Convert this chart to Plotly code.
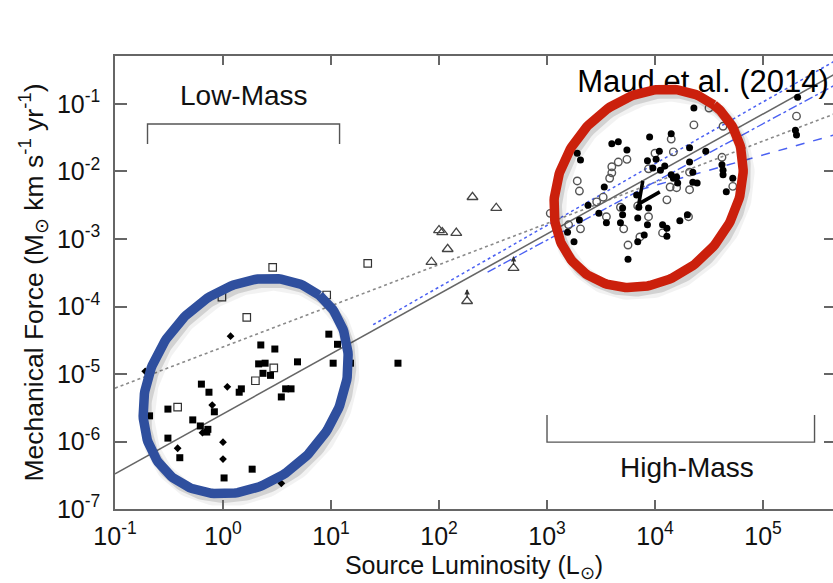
import numpy as np
import plotly.graph_objects as go

# ---------------- tick labels ----------------
x_tickvals = [1e-1, 1e0, 1e1, 1e2, 1e3, 1e4, 1e5]
x_ticktext = ["10<sup>-1</sup>", "10<sup>0</sup>", "10<sup>1</sup>", "10<sup>2</sup>",
              "10<sup>3</sup>", "10<sup>4</sup>", "10<sup>5</sup>"]
y_tickvals = [1e-7, 1e-6, 1e-5, 1e-4, 1e-3, 1e-2, 1e-1]
y_ticktext = ["10<sup>-7</sup>", "10<sup>-6</sup>", "10<sup>-5</sup>", "10<sup>-4</sup>",
              "10<sup>-3</sup>", "10<sup>-2</sup>", "10<sup>-1</sup>"]

# ---------------- data (log10 L [Lsun], log10 F [Msun km/s/yr]) ----------------
lm_sq_filled_logL = [0.98, 1.06, 1.02, 0.35, 0.48, 0.69, 0.33, 0.39, 0.37, 0.44, -0.20, -0.13, 0.15, 0.17,
                     0.58, 0.63, 0.54, -0.51, -0.68, -0.08, -0.28, -0.21, -0.14, -0.15, -0.51, -0.40, 0.27,
                     0.01, 1.18, 1.62]
lm_sq_filled_logF = [-4.41, -4.56, -4.84, -4.57, -4.63, -4.82, -4.85, -4.84, -4.99, -5.02, -5.15, -5.27, -5.27,
                     -5.22, -5.22, -5.22, -5.34, -5.52, -5.62, -5.56, -5.68, -5.77, -5.82, -5.86, -5.95, -6.24,
                     -6.41, -6.54, -4.84, -4.84]

lm_diamond_logL = [0.07, -0.72, 0.04, -0.10, -0.19, -0.42, 0.00, 0.00, 0.54]
lm_diamond_logF = [-4.44, -4.96, -5.19, -5.46, -5.87, -6.10, -6.01, -6.26, -6.62]

lm_sq_open_logL = [1.34, 0.46, -0.01, 0.22, 0.96, 0.47, 0.30, -0.42]
lm_sq_open_logF = [-3.36, -3.42, -3.86, -4.16, -3.83, -4.91, -5.10, -5.49]

im_tri_logL = [2.31, 2.53, 2.00, 2.03, 2.16, 2.08, 1.93, 2.69, 2.26]
im_tri_logF = [-2.38, -2.54, -2.87, -2.90, -2.91, -3.15, -3.34, -3.43, -3.92]
im_tri_lowerlimit = [False, False, False, False, False, False, False, True, True]

hm_filled_logL = [4.36, 5.32, 5.30, 5.31, 3.95, 3.60, 3.66, 3.74, 3.28, 3.31, 4.15, 4.04, 4.01, 3.93, 4.32,
                  4.47, 4.62, 4.63, 4.63, 4.72, 4.66, 4.32, 4.09, 4.05, 4.15, 4.17, 4.21, 4.20, 4.35, 4.39,
                  4.35, 3.53, 3.38, 3.48, 3.83, 3.85, 3.70, 3.70, 3.68, 3.94, 3.84, 3.55, 3.19, 3.25, 3.30,
                  3.93, 3.90, 3.84, 4.07, 4.11, 4.11, 4.23, 4.30, 3.75, 3.98]
hm_filled_logF = [-1.06, -0.90, -1.39, -1.46, -1.49, -1.59, -1.56, -1.68, -1.73, -1.83, -1.44, -1.70, -1.82,
                  -1.84, -1.65, -1.70, -1.90, -1.98, -2.05, -2.10, -2.30, -1.86, -1.92, -1.98, -2.05, -2.10,
                  -2.17, -2.08, -2.01, -2.17, -2.16, -2.23, -2.50, -2.62, -2.35, -2.53, -2.54, -2.64, -2.76,
                  -2.54, -2.69, -2.76, -2.90, -3.04, -2.72, -2.79, -2.94, -3.04, -2.79, -2.84, -2.96, -2.73,
                  -2.64, -3.30, -1.95]

hm_open_logL = [4.36, 4.50, 4.15, 3.60, 3.66, 3.74, 3.60, 3.58, 3.28, 3.30, 4.17, 4.00, 3.94, 4.32, 4.32,
                4.62, 4.72, 4.20, 4.14, 4.11, 3.68, 3.52, 3.46, 3.84, 3.94, 3.55, 3.31, 3.71, 3.20, 4.07,
                4.31, 3.75, 3.86, 5.31, 4.63, 3.03]
hm_open_logF = [-1.31, -1.06, -1.52, -1.93, -1.86, -1.82, -2.02, -2.10, -2.14, -2.29, -1.71, -1.73, -1.96,
                -2.01, -2.27, -1.79, -2.22, -2.24, -2.23, -2.42, -2.53, -2.38, -2.45, -2.51, -2.67, -2.67,
                -2.85, -2.85, -2.79, -2.91, -2.67, -3.09, -2.97, -1.18, -1.33, -2.62]

# fitted relations (end points, log10 units)
fit_all_logL = [-1.0, 6.0]
fit_all_logF = [-6.48, -0.26]
fit_bontemps_logL = [-1.0, 6.0]
fit_bontemps_logF = [-5.21, -0.94]
fit_hm_dotted_logL = [1.39, 5.70]
fit_hm_dotted_logF = [-4.27, -0.33]
fit_hm_dashdot_logL = [2.45, 5.70]
fit_hm_dashdot_logF = [-3.49, -0.69]
fit_hm_dashed_logL = [3.86, 5.70]
fit_hm_dashed_logF = [-2.27, -1.44]

# luminosity ranges of the two regimes (brackets)
lowmass_range_L = [0.2, 12.0]
lowmass_bracket_F = [0.0255, 0.0506]
highmass_range_L = [1.0e3, 3.0e5]
highmass_bracket_F = [2.47e-6, 9.8e-7]

# highlight ellipses: centre (log10 L, log10 F), semi-axes (px), tilt (deg)
blue_ellipse = dict(c=(0.21, -5.18), a=117, b=92, ang=51)
red_ellipse = dict(c=(3.94, -2.25), a=106, b=87, ang=52)

# pointer chevron inside the high-mass cluster: tip (log10 L, log10 F) and arm offsets (px)
pointer_logL, pointer_logF = 3.85, -2.48
pointer_arms_px = [(4, -23), (21, -12)]

# ---------------- geometry ----------------
W, H = 833, 583
M_L, M_R, M_T, M_B = 115, 0, 56, 74
X_RANGE = [-1.0, 5.648]
Y_RANGE = [-7.0, -0.289]
PXX = (W - M_L - M_R) / (X_RANGE[1] - X_RANGE[0])
PXY = (H - M_T - M_B) / (Y_RANGE[1] - Y_RANGE[0])

FONT = "Liberation Sans, Arial, Helvetica, sans-serif"
BLUE_LINE = "#4a60f2"


def p10(v):
    return [10 ** x for x in v]


def ellipse(e, dx=0.0, dy=0.0, n=240):
    t = np.linspace(0, 2 * np.pi, n)
    th = np.radians(e["ang"])
    ex = e["a"] * np.cos(t) * np.cos(th) - e["b"] * np.sin(t) * np.sin(th)
    ey = e["a"] * np.cos(t) * np.sin(th) + e["b"] * np.sin(t) * np.cos(th)
    lx = e["c"][0] + (ex + dx) / PXX
    ly = e["c"][1] + (ey - dy) / PXY
    return 10 ** lx, 10 ** ly


fig = go.Figure()


def add_line(lx, ly, color, width, dash):
    fig.add_trace(go.Scatter(x=p10(lx), y=p10(ly), mode="lines",
                             line=dict(color=color, width=width, dash=dash), hoverinfo="skip"))


add_line(fit_bontemps_logL, fit_bontemps_logF, "#8a8a8a", 1.6, "dot")
add_line(fit_all_logL, fit_all_logF, "#666666", 1.5, "solid")
add_line(fit_hm_dashed_logL, fit_hm_dashed_logF, BLUE_LINE, 1.5, "dash")
add_line(fit_hm_dotted_logL, fit_hm_dotted_logF, BLUE_LINE, 1.5, "dot")
add_line(fit_hm_dashdot_logL, fit_hm_dashdot_logF, BLUE_LINE, 1.4, "dashdot")

# data points
fig.add_trace(go.Scatter(x=p10(lm_sq_open_logL), y=p10(lm_sq_open_logF), mode="markers",
                         marker=dict(symbol="square-open", size=7.5, color="#333", line=dict(width=1.2))))
fig.add_trace(go.Scatter(x=p10(lm_sq_filled_logL), y=p10(lm_sq_filled_logF), mode="markers",
                         marker=dict(symbol="square", size=7, color="#000")))
fig.add_trace(go.Scatter(x=p10(lm_diamond_logL), y=p10(lm_diamond_logF), mode="markers",
                         marker=dict(symbol="diamond", size=6, color="#000")))
fig.add_trace(go.Scatter(x=p10(im_tri_logL), y=p10(im_tri_logF), mode="markers",
                         marker=dict(symbol="triangle-up-open", size=9.5, color="#444", line=dict(width=1.3))))
fig.add_trace(go.Scatter(x=p10(hm_open_logL), y=p10(hm_open_logF), mode="markers",
                         marker=dict(symbol="circle-open", size=7.5, color="#555", line=dict(width=1.4))))
fig.add_trace(go.Scatter(x=p10(hm_filled_logL), y=p10(hm_filled_logF), mode="markers",
                         marker=dict(symbol="circle", size=7, color="#000")))

# lower-limit arrows above two triangles (shafts)
for lx, ly, lim in zip(im_tri_logL, im_tri_logF, im_tri_lowerlimit):
    if lim:
        fig.add_trace(go.Scatter(x=[10 ** lx, 10 ** lx], y=[10 ** (ly + 3 / PXY), 10 ** (ly + 11 / PXY)],
                                 mode="lines", line=dict(color="#333", width=1.2), hoverinfo="skip"))

# pointer chevron
(a1x, a1y), (a2x, a2y) = pointer_arms_px
fig.add_trace(go.Scatter(
    x=[10 ** (pointer_logL + a1x / PXX), 10 ** pointer_logL, 10 ** (pointer_logL + a2x / PXX)],
    y=[10 ** (pointer_logF - a1y / PXY), 10 ** pointer_logF, 10 ** (pointer_logF - a2y / PXY)],
    mode="lines", line=dict(color="#000", width=3.5), hoverinfo="skip"))

# brackets
fig.add_trace(go.Scatter(x=[lowmass_range_L[0], lowmass_range_L[0], lowmass_range_L[1], lowmass_range_L[1]],
                         y=[lowmass_bracket_F[0], lowmass_bracket_F[1], lowmass_bracket_F[1], lowmass_bracket_F[0]],
                         mode="lines", line=dict(color="#555", width=1.4), yaxis="y2", hoverinfo="skip"))
fig.add_trace(go.Scatter(x=[highmass_range_L[0], highmass_range_L[0], highmass_range_L[1], highmass_range_L[1]],
                         y=[highmass_bracket_F[0], highmass_bracket_F[1], highmass_bracket_F[1], highmass_bracket_F[0]],
                         mode="lines", line=dict(color="#555", width=1.4), yaxis="y2", hoverinfo="skip"))

# reference label (drawn below the red ring)
fig.add_trace(go.Scatter(x=[10 ** 3.28], y=[10 ** -0.70], mode="text", text=["Maud et al. (2014)"],
                         textposition="middle right", cliponaxis=False,
                         textfont=dict(size=31, color="#000", family=FONT), hoverinfo="skip"))

# ellipses with soft shadows
for e, col in [(blue_ellipse, "#2f4f9e"), (red_ellipse, "#cb200c")]:
    sx, sy = ellipse(e, dx=4, dy=5)
    fig.add_trace(go.Scatter(x=sx, y=sy, mode="lines", line=dict(color="rgba(0,0,0,0.05)", width=15),
                             hoverinfo="skip"))
    sx, sy = ellipse(e, dx=3, dy=4)
    fig.add_trace(go.Scatter(x=sx, y=sy, mode="lines", line=dict(color="rgba(0,0,0,0.13)", width=10),
                             hoverinfo="skip"))
    ex, ey = ellipse(e)
    fig.add_trace(go.Scatter(x=ex, y=ey, mode="lines", line=dict(color=col, width=9.5), hoverinfo="skip"))

annotations = [
    dict(x=np.log10(1.56), y=-0.88, xref="x", yref="y", text="Low-Mass", showarrow=False,
         font=dict(size=28, color="#111", family=FONT)),
    dict(x=np.log10(1.98e4), y=-6.39, xref="x", yref="y", text="High-Mass", showarrow=False,
         font=dict(size=28, color="#111", family=FONT)),
]
# arrow heads of the lower limits
for lx, ly, lim in zip(im_tri_logL, im_tri_logF, im_tri_lowerlimit):
    if lim:
        annotations.append(dict(x=lx, y=ly + 12 / PXY, xref="x", yref="y", text="", showarrow=True,
                                arrowhead=2, arrowsize=0.9, arrowwidth=1.2, arrowcolor="#333", ax=0, ay=4,
                                standoff=0))

axis_common = dict(type="log", showgrid=False, zeroline=False, ticks="inside", tickcolor="#666",
                   tickwidth=1.5, linecolor="#666", linewidth=1.5,
                   tickfont=dict(size=25, color="#111", family=FONT))

fig.update_layout(
    width=W, height=H,
    margin=dict(l=M_L, r=M_R, t=M_T, b=M_B, pad=0),
    paper_bgcolor="white", plot_bgcolor="white",
    showlegend=False,
    font=dict(family=FONT, color="#111"),
    xaxis=dict(axis_common, range=X_RANGE, tickvals=x_tickvals, ticktext=x_ticktext, ticklen=9,
               showline=True, mirror="ticks", ticklabelstandoff=4,
               title=dict(text="Source Luminosity (L<sub>⊙</sub>)", font=dict(size=25, family=FONT, color="#111"),
                          standoff=8)),
    yaxis=dict(axis_common, range=Y_RANGE, tickvals=y_tickvals, ticktext=y_ticktext, ticklen=12,
               showline=True, mirror=False, ticklabelstandoff=8,
               title=dict(text="Mechanical Force (M<sub>⊙</sub> km s<sup>-1</sup> yr<sup>-1</sup>)",
                          font=dict(size=26.5, family=FONT, color="#111"), standoff=6)),
    yaxis2=dict(axis_common, range=Y_RANGE, tickvals=y_tickvals, overlaying="y", side="right", anchor="x",
                showline=False, showticklabels=False, ticklen=9),
    annotations=annotations,
)

fig.write_html("out.html")
